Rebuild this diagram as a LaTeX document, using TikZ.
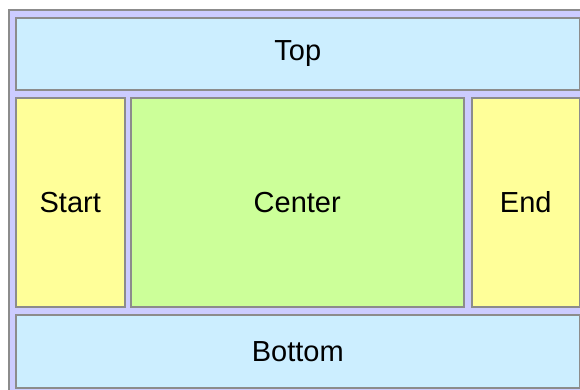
\documentclass[tikz,border=0pt]{standalone}
\usepackage{fontspec}
\setmainfont{Liberation Sans}
\definecolor{lav}{HTML}{CCCCFF}
\definecolor{sky}{HTML}{CCEEFF}
\definecolor{lemon}{HTML}{FFFF99}
\definecolor{lime}{HTML}{CCFF99}
\definecolor{edge}{HTML}{8C8C8C}
\begin{document}
\begin{tikzpicture}[x=1pt,y=-1pt,
  panel/.style={draw=edge, line width=1.5pt, rectangle, inner sep=0pt, anchor=north west,
    font=\fontsize{29}{33}\selectfont, text=black}]
\useasboundingbox (0,0) rectangle (580,389);
\clip (0,0) rectangle (580,389);
\fill[white] (0,0) rectangle (580,389);
\node[draw=edge, line width=1.5pt, fill=lav, inner sep=0pt, anchor=north west,
  minimum width=600pt, minimum height=400pt] (outer) at (8,9) {};
\node[panel, fill=sky, minimum width=564pt, minimum height=72pt] (top) at (15,17) {Top};
\node[panel, fill=lemon, minimum width=109pt, minimum height=209pt] (start) at (15,97) {Start};
\node[panel, fill=lime, minimum width=333pt, minimum height=209pt] (center) at (130,97) {Center};
\node[panel, fill=lemon, minimum width=108pt, minimum height=209pt] (end) at (471,97) {End};
\node[panel, fill=sky, minimum width=564pt, minimum height=73pt] (bottom) at (15,314) {Bottom};
\end{tikzpicture}
\end{document}
